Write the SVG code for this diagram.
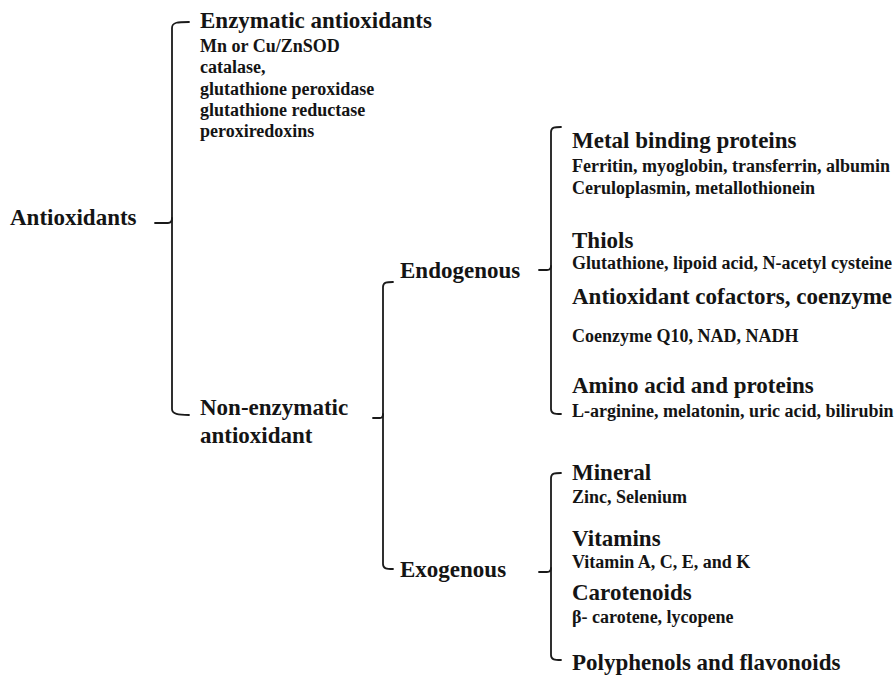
<svg xmlns="http://www.w3.org/2000/svg" width="895" height="675" viewBox="0 0 895 675">
  <style>
    text { font-family: "Liberation Serif", "Times New Roman", serif; font-weight: bold; fill: #141414; }
    .h { font-size: 23px; }
    .s { font-size: 18px; }
    .br { fill: none; stroke: #1a1a1a; stroke-width: 1.8; stroke-linecap: round; stroke-linejoin: round; }
  </style>
  <rect width="895" height="675" fill="#ffffff"/>

  <!-- brackets connecting each level of the classification -->
  <g id="connectors">
    <!-- Antioxidants -> enzymatic / non-enzymatic -->
    <path class="br" d="M189,22 C178,22 172,22 172,28 L172,409 C172,414 178,415 189,415"/>
    <path class="br" d="M155,223 L168,223 C171,223 172,221 172,218"/>
    <!-- Non-enzymatic -> endogenous / exogenous -->
    <path class="br" d="M393,282 C387,282 383,282 383,287 L383,564 C383,569 387,569 393,569"/>
    <path class="br" d="M373,418 L380,418 C382,418 383,416 383,414"/>
    <!-- Endogenous -> groups -->
    <path class="br" d="M561,127 C555,127 551,127 551,132 L551,409 C551,414 555,414 561,414"/>
    <path class="br" d="M539,270 L547,270 C550,270 551,268 551,266"/>
    <!-- Exogenous -> groups -->
    <path class="br" d="M561,473 C555,473 551,473 551,478 L551,655 C551,660 555,660 561,660"/>
    <path class="br" d="M539,572 L547,572 C550,572 551,570 551,568"/>
  </g>

  <g id="antioxidants">
    <text class="h" x="10" y="225">Antioxidants</text>
  </g>

  <g id="enzymatic">
    <text class="h" x="200" y="28">Enzymatic antioxidants</text>
    <text class="s" x="200" y="52">Mn or Cu/ZnSOD</text>
    <text class="s" x="200" y="73">catalase,</text>
    <text class="s" x="200" y="95">glutathione peroxidase</text>
    <text class="s" x="200" y="116">glutathione reductase</text>
    <text class="s" x="200" y="137">peroxiredoxins</text>
  </g>

  <g id="non-enzymatic">
    <text class="h" x="200" y="415">Non-enzymatic</text>
    <text class="h" x="200" y="443">antioxidant</text>
  </g>

  <g id="endogenous">
    <text class="h" x="400" y="278">Endogenous</text>
  </g>

  <g id="exogenous">
    <text class="h" x="400" y="577">Exogenous</text>
  </g>

  <g id="metal-binding">
    <text class="h" x="572" y="148">Metal binding proteins</text>
    <text class="s" x="572" y="172">Ferritin, myoglobin, transferrin, albumin</text>
    <text class="s" x="572" y="194">Ceruloplasmin, metallothionein</text>
  </g>

  <g id="thiols">
    <text class="h" x="572" y="248">Thiols</text>
    <text class="s" x="572" y="269">Glutathione, lipoid acid, N-acetyl cysteine</text>
  </g>

  <g id="cofactors">
    <text class="h" x="572" y="304">Antioxidant cofactors, coenzyme</text>
    <text class="s" x="572" y="342">Coenzyme Q10, NAD, NADH</text>
  </g>

  <g id="amino-acids">
    <text class="h" x="572" y="393">Amino acid and proteins</text>
    <text class="s" x="572" y="417">L-arginine, melatonin, uric acid, bilirubin</text>
  </g>

  <g id="mineral">
    <text class="h" x="572" y="480">Mineral</text>
    <text class="s" x="572" y="503">Zinc, Selenium</text>
  </g>

  <g id="vitamins">
    <text class="h" x="572" y="546">Vitamins</text>
    <text class="s" x="572" y="568">Vitamin A, C, E, and K</text>
  </g>

  <g id="carotenoids">
    <text class="h" x="572" y="600">Carotenoids</text>
    <text class="s" x="572" y="623">β- carotene, lycopene</text>
  </g>

  <g id="polyphenols">
    <text class="h" x="572" y="670">Polyphenols and flavonoids</text>
  </g>
</svg>
